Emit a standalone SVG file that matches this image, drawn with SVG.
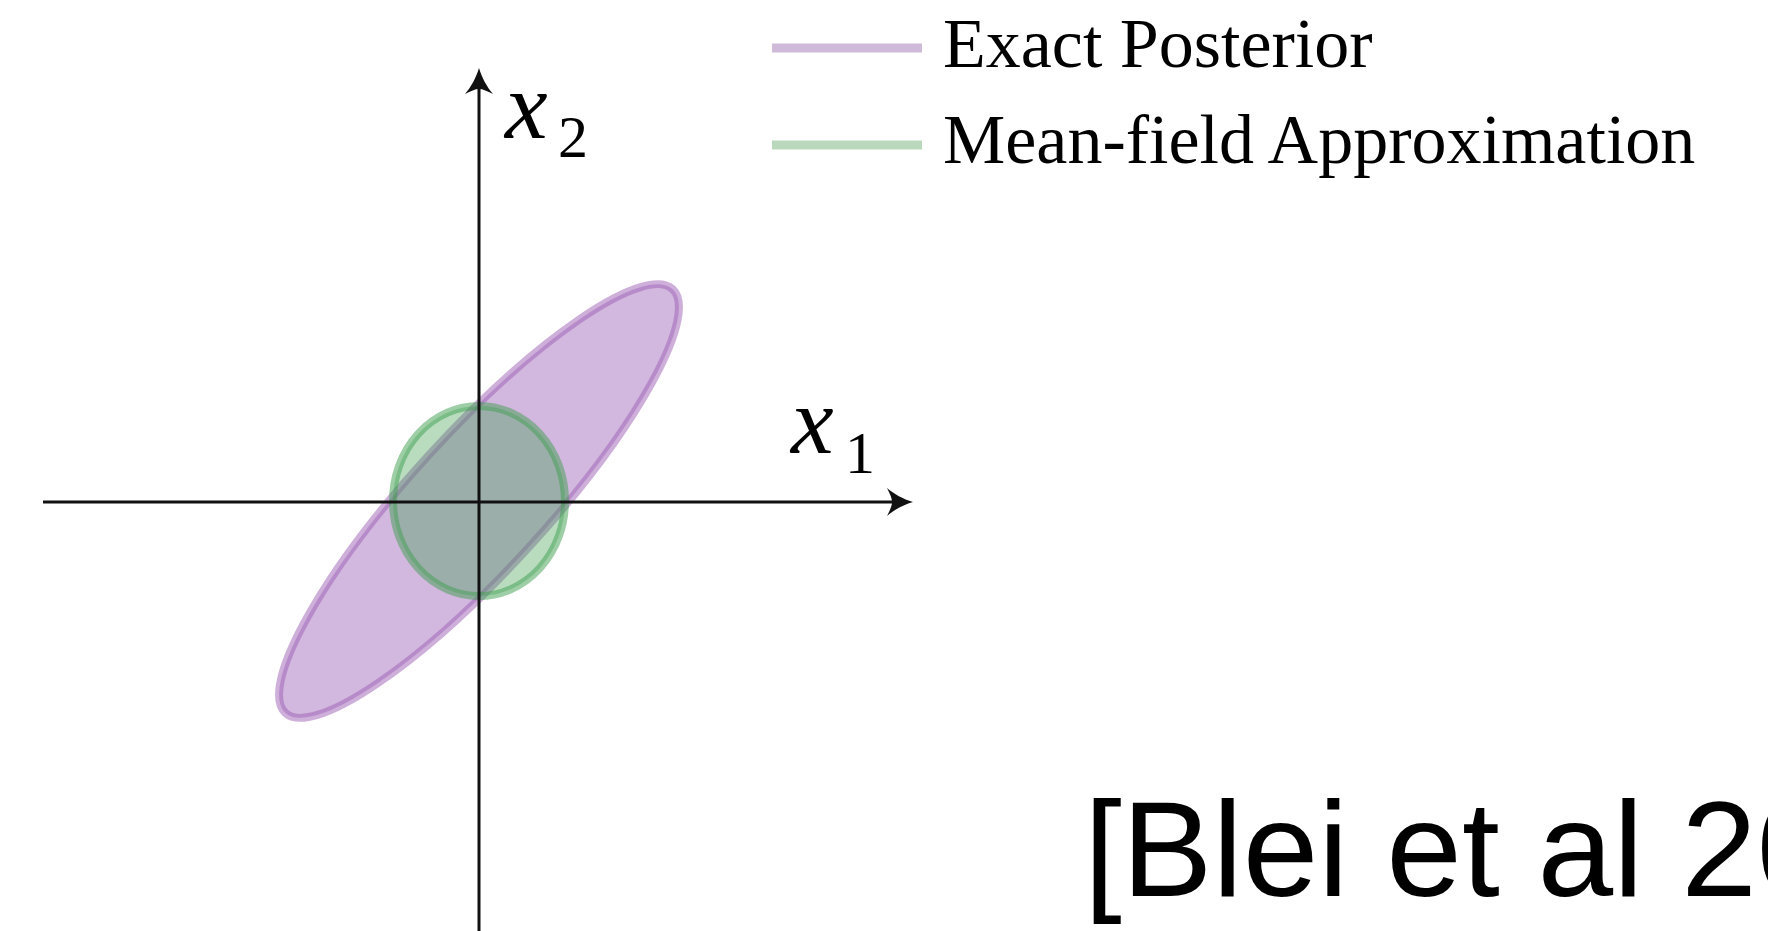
<svg xmlns="http://www.w3.org/2000/svg" width="1768" height="931" viewBox="0 0 1768 931">
<style>
.serif{font-family:"Liberation Serif","DejaVu Serif",serif;fill:#000}
.math{font-family:"Liberation Serif","DejaVu Serif",serif;font-style:italic;fill:#000}
.sans{font-family:"Liberation Sans",Arial,sans-serif;fill:#000}
.axis{stroke:#111;stroke-width:3;fill:none}
.head{fill:#111;stroke:none}
.post{fill:#9b5fb5;fill-opacity:0.45;stroke:#9b5fb5;stroke-opacity:0.5;stroke-width:8}
.mf{fill:#3e9e4e;fill-opacity:0.36;stroke:#3e9e4e;stroke-opacity:0.5;stroke-width:8}
</style>
<rect width="1768" height="931" fill="#fff"/>
<g id="exact-posterior">
<ellipse class="post" cx="479" cy="501" rx="287" ry="68" transform="rotate(-47.6 479 501)"/>
</g>
<g id="mean-field">
<ellipse class="mf" cx="479" cy="501" rx="86" ry="95"/>
</g>
<g id="connectors">
<line class="axis" x1="479" y1="74" x2="479" y2="931"/>
<path class="head" d="M479,68 C482,78 487,87 493,94 C487,91 483,89 479,89 C475,89 471,91 465,94 C471,87 476,78 479,68 Z"/>
<line class="axis" x1="43" y1="502" x2="907" y2="502"/>
<path class="head" d="M913,502 C903,505 894,510 887,516 C890,510 892,506 892,502 C892,498 890,494 887,488 C894,494 903,499 913,502 Z"/>
</g>
<g id="label-x2">
<text class="math" x="505" y="138" font-size="96">x</text>
<text class="serif" x="558" y="157" font-size="60">2</text>
</g>
<g id="label-x1">
<text class="math" x="791" y="453" font-size="96">x</text>
<text class="serif" x="845" y="473" font-size="60">1</text>
</g>
<g id="legend">
<line x1="772" y1="48" x2="922" y2="48" stroke="#cfbad9" stroke-width="9"/>
<text class="serif" x="943" y="67" font-size="70">Exact Posterior</text>
<line x1="772" y1="145" x2="922" y2="145" stroke="#bad9bc" stroke-width="9"/>
<text class="serif" x="943" y="163" font-size="70">Mean-field Approximation</text>
</g>
<g id="citation">
<text class="sans" x="1084" y="896" font-size="136">[Blei et al 20</text>
</g>
</svg>
